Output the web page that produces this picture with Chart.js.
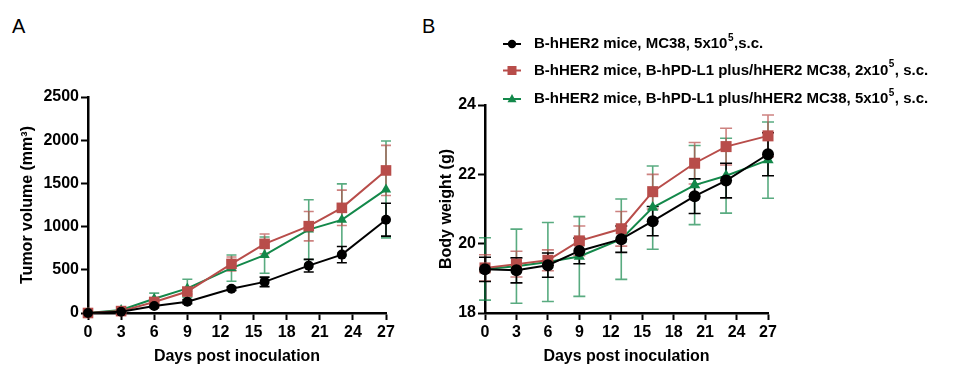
<!DOCTYPE html>
<html><head><meta charset="utf-8">
<script src="https://cdn.jsdelivr.net/npm/chart.js@4.4.1/dist/chart.umd.min.js"></script>
<style>
html,body{margin:0;padding:0;background:#fff;}
#wrap{position:relative;width:976px;height:372px;overflow:hidden;background:#fff;}
#ca{position:absolute;left:0;top:0;width:420px;height:372px;}
#cb{position:absolute;left:420px;top:0;width:556px;height:372px;}
.lab{position:absolute;font-family:"Liberation Sans",Arial,sans-serif;font-size:20px;line-height:1;color:#000;}
</style></head><body>
<div id="wrap">
<div class="lab" style="left:12px;top:16px">A</div>
<div class="lab" style="left:422px;top:16px">B</div>
<canvas id="ca" width="420" height="372"></canvas>
<canvas id="cb" width="556" height="372"></canvas>
</div>
<script>
// ---- data ----
const days = [0, 3, 6, 9, 13, 16, 20, 23, 27];
const xTicks = [0, 3, 6, 9, 12, 15, 18, 21, 24, 27];

const seriesNames = [
  ['B-hHER2 mice, MC38, 5x10', '5', ',s.c.'],
  ['B-hHER2 mice, B-hPD-L1 plus/hHER2 MC38, 2x10', '5', ', s.c.'],
  ['B-hHER2 mice, B-hPD-L1 plus/hHER2 MC38, 5x10', '5', ', s.c.']
];

// Panel A: tumor volume (mm3), mean and error
const volBlack    = [0, 15, 80, 130, 281, 360, 548, 676, 1080];
const volBlackErr = [0, 8, 20, 22, 20, 55, 73, 94, 190];
const volRed      = [0, 22, 128, 248, 568, 800, 1005, 1217, 1650];
const volRedErr   = [0, 10, 25, 30, 80, 115, 170, 205, 290];
const volGreen    = [0, 35, 165, 285, 520, 670, 965, 1078, 1430];
const volGreenErr = [0, 15, 65, 105, 152, 210, 345, 416, 560];
const volTicks = [0, 500, 1000, 1500, 2000, 2500];

// Panel B: body weight (g), mean and error
const wBlack    = [19.26, 19.23, 19.38, 19.79, 20.13, 20.65, 21.37, 21.82, 22.58];
const wBlackErr = [0.35, 0.36, 0.35, 0.37, 0.38, 0.42, 0.50, 0.50, 0.62];
const wRed      = [19.30, 19.41, 19.52, 20.08, 20.43, 21.50, 22.32, 22.80, 23.11];
const wRedErr   = [0.38, 0.37, 0.30, 0.43, 0.50, 0.50, 0.60, 0.53, 0.60];
const wGreen    = [19.27, 19.35, 19.47, 19.63, 20.13, 21.04, 21.69, 21.96, 22.41];
const wGreenErr = [0.90, 1.07, 1.14, 1.15, 1.16, 1.20, 1.14, 1.08, 1.10];
const wTicks = [18, 20, 22, 24];

// ---- styles ----
const FONT = "'Liberation Sans', Arial, Helvetica, sans-serif";
const BLACK = '#000000', RED = '#B84D4A', GREEN = '#13884A';
const RED_ERR = 'rgba(184,77,74,0.7)', GREEN_ERR = 'rgba(19,136,74,0.7)';

const pts = (vals) => days.map((d, i) => ({x: d, y: vals[i]}));

const errorBars = {
  id: 'errorBars',
  beforeDatasetsDraw(chart, args, opts) {
    const ctx = chart.ctx, xs = chart.scales.x, ys = chart.scales.y;
    const cap = opts.cap || 5;
    const dsets = chart.data.datasets;
    for (let i = dsets.length - 1; i >= 0; i--) {
      const ds = dsets[i];
      if (!ds.errors) continue;
      ctx.save();
      ctx.strokeStyle = ds.errorColor;
      ctx.lineWidth = 1.6;
      ds.data.forEach((p, j) => {
        const e = ds.errors[j];
        if (!e) return;
        const x = xs.getPixelForValue(p.x);
        const y1 = ys.getPixelForValue(p.y + e);
        const y2 = ys.getPixelForValue(Math.max(p.y - e, ys.min));
        ctx.beginPath();
        ctx.moveTo(x, y1); ctx.lineTo(x, y2);
        ctx.moveTo(x - cap, y1); ctx.lineTo(x + cap, y1);
        ctx.moveTo(x - cap, y2); ctx.lineTo(x + cap, y2);
        ctx.stroke();
      });
      ctx.restore();
    }
  }
};

function drawMarker(ctx, style, x, y, r, color) {
  ctx.fillStyle = color;
  ctx.beginPath();
  if (style === 'circle') {
    ctx.arc(x, y, r, 0, Math.PI * 2);
  } else if (style === 'rect') {
    ctx.rect(x - r, y - r, 2 * r, 2 * r);
  } else {
    ctx.moveTo(x, y - r * 1.1);
    ctx.lineTo(x + r, y + r * 0.7);
    ctx.lineTo(x - r, y + r * 0.7);
    ctx.closePath();
  }
  ctx.fill();
}

const customLegend = {
  id: 'customLegend',
  afterDraw(chart) {
    const ctx = chart.ctx;
    const rowsY = [44, 70.5, 99];
    const colors = [BLACK, RED, GREEN];
    const styles = ['circle', 'rect', 'triangle'];
    const sizes = [4.2, 4.5, 4.5];
    ctx.save();
    seriesNames.forEach((parts, i) => {
      const y = rowsY[i];
      ctx.strokeStyle = colors[i];
      ctx.lineWidth = 2;
      ctx.beginPath(); ctx.moveTo(83, y); ctx.lineTo(101, y); ctx.stroke();
      drawMarker(ctx, styles[i], 92, y, sizes[i], colors[i]);
      ctx.fillStyle = '#000';
      ctx.textBaseline = 'middle';
      ctx.textAlign = 'left';
      let x = 114;
      ctx.font = 'bold 15px ' + FONT;
      ctx.fillText(parts[0], x, y);
      x += ctx.measureText(parts[0]).width + 0.5;
      ctx.font = 'bold 10px ' + FONT;
      ctx.fillText(parts[1], x, y - 6);
      x += ctx.measureText(parts[1]).width + 0.5;
      ctx.font = 'bold 15px ' + FONT;
      ctx.fillText(parts[2], x, y);
    });
    ctx.restore();
  }
};

function axisCommon() {
  return {
    grid: {display: true, drawOnChartArea: false, drawTicks: true, tickLength: 7, tickWidth: 2, tickColor: '#000'},
    border: {display: true, color: '#000', width: 2.5},
  };
}

function makeChart(el, cfg) {
  return new Chart(el, {
    type: 'line',
    data: {
      datasets: [
        {data: pts(cfg.black), errors: cfg.blackErr, errorColor: BLACK, borderColor: BLACK, backgroundColor: BLACK,
         pointStyle: 'circle', pointRadius: cfg.pr[0], borderWidth: 2, pointBorderWidth: 0, clip: false},
        {data: pts(cfg.red), errors: cfg.redErr, errorColor: RED_ERR, borderColor: RED, backgroundColor: RED,
         pointStyle: 'rect', pointRadius: cfg.pr[1], borderWidth: 2, pointBorderWidth: 0, clip: false},
        {data: pts(cfg.green), errors: cfg.greenErr, errorColor: GREEN_ERR, borderColor: GREEN, backgroundColor: GREEN,
         pointStyle: 'triangle', pointRadius: cfg.pr[2], borderWidth: 2, pointBorderWidth: 0, clip: false}
      ]
    },
    options: {
      responsive: false,
      animation: false,
      devicePixelRatio: 1,
      layout: {padding: cfg.padding},
      plugins: {legend: {display: false}, tooltip: {enabled: false}, errorBars: {cap: cfg.cap}},
      elements: {line: {tension: 0}},
      scales: {
        x: Object.assign(axisCommon(), {
          type: 'linear', min: 0, max: 27,
          afterBuildTicks: (s) => { s.ticks = xTicks.map(v => ({value: v})); },
          ticks: {autoSkip: false, maxRotation: 0, color: '#000', padding: 3, font: {family: FONT, size: 16, weight: 'bold'},
                  callback: (v) => String(v)},
          title: {display: true, text: 'Days post inoculation', color: '#000', padding: {top: 0, bottom: 6}, font: {family: FONT, size: 16, weight: 'bold'}},
          afterFit: (s) => { s.height = 59; }
        }),
        y: Object.assign(axisCommon(), {
          type: 'linear', min: cfg.ymin, max: cfg.ymax,
          afterBuildTicks: (s) => { s.ticks = cfg.yTicks.map(v => ({value: v})); },
          ticks: {autoSkip: false, color: '#000', padding: 2, font: {family: FONT, size: 16, weight: 'bold'},
                  callback: (v) => String(v)},
          title: {display: true, text: cfg.ytitle, color: '#000', padding: {top: cfg.ytitlePad, bottom: 0}, font: {family: FONT, size: 16, weight: 'bold'}},
          afterFit: (s) => { s.width = cfg.ywidth; }
        })
      }
    },
    plugins: cfg.plugins
  });
}

makeChart(document.getElementById('ca'), {
  black: volBlack, blackErr: volBlackErr, red: volRed, redErr: volRedErr, green: volGreen, greenErr: volGreenErr,
  ymin: 0, ymax: 2500, yTicks: volTicks, ytitle: 'Tumor volume (mm³)', ytitlePad: 18,
  ywidth: 88, padding: {left: 0, top: 97, right: 34, bottom: 0}, cap: 5, pr: [5, 7.5, 6],
  plugins: [errorBars]
});

makeChart(document.getElementById('cb'), {
  black: wBlack, blackErr: wBlackErr, red: wRed, redErr: wRedErr, green: wGreen, greenErr: wGreenErr,
  ymin: 18, ymax: 24, yTicks: wTicks, ytitle: 'Body weight (g)', ytitlePad: 17,
  ywidth: 65, padding: {left: 0, top: 105, right: 208, bottom: 0}, cap: 6, pr: [6, 7.8, 6.5],
  plugins: [errorBars, customLegend]
});
</script>
</body></html>
